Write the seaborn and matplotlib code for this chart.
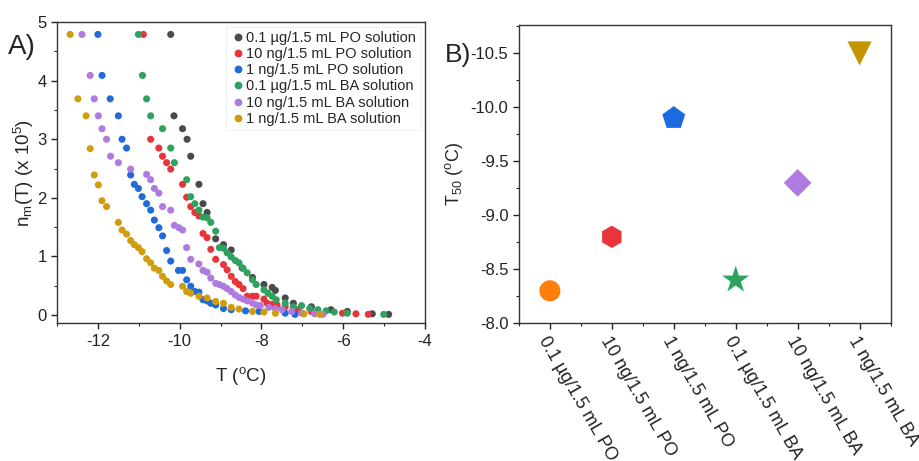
import numpy as np
import pandas as pd
import matplotlib
matplotlib.use("Agg")
import matplotlib.pyplot as plt
import seaborn as sns
from matplotlib.ticker import MultipleLocator, AutoMinorLocator

# ---- panel A data: n_m(T) (x 1e5) vs T (oC) ----
t_po_01 = [-10.22, -10.14, -9.93, -9.82, -9.73, -9.53, -9.43, -9.33, -9.12, -8.93, -8.74,
           -8.47, -8.22, -7.94, -7.74, -7.66, -7.42, -7.22, -6.78, -6.30, -5.90, -5.29, -4.89]
n_po_01 = [4.79, 3.40, 3.18, 3.00, 2.71, 2.23, 1.90, 1.75, 1.30, 1.20, 1.11,
           0.80, 0.64, 0.52, 0.47, 0.42, 0.29, 0.20, 0.14, 0.09, 0.06, 0.02, 0.01]

t_po_10 = [-10.89, -10.71, -10.51, -10.42, -10.32, -10.22, -9.93, -9.83, -9.73, -9.63, -9.53,
           -9.43, -9.33, -9.24, -9.12, -8.93, -8.84, -8.74, -8.64, -8.55, -8.45, -8.35, -8.22,
           -8.13, -7.94, -7.86, -7.74, -7.62, -7.42, -7.10, -6.78, -6.02, -5.69, -5.39]
n_po_10 = [4.79, 3.00, 2.85, 2.71, 2.60, 2.49, 2.23, 2.01, 1.85, 1.75, 1.69,
           1.39, 1.32, 1.12, 0.95, 0.86, 0.77, 0.66, 0.57, 0.52, 0.45, 0.32, 0.32,
           0.32, 0.27, 0.20, 0.18, 0.17, 0.14, 0.09, 0.06, 0.03, 0.02, 0.01]

t_po_1 = [-12.00, -11.90, -11.70, -11.50, -11.41, -11.30, -11.20, -11.11, -11.01, -10.92, -10.81,
          -10.71, -10.62, -10.51, -10.42, -10.32, -10.22, -10.03, -9.93, -9.83, -9.73, -9.63,
          -9.53, -9.43, -9.33, -9.24, -9.12, -8.93, -8.74, -8.39, -8.06, -7.42, -7.18]
n_po_1 = [4.79, 4.09, 3.69, 3.40, 3.00, 2.85, 2.39, 2.23, 2.16, 2.02, 1.90,
          1.79, 1.62, 1.49, 1.35, 1.10, 0.92, 0.76, 0.76, 0.60, 0.49, 0.40,
          0.39, 0.26, 0.24, 0.20, 0.17, 0.11, 0.09, 0.07, 0.06, 0.03, 0.01]

t_ba_01 = [-11.01, -10.91, -10.81, -10.71, -10.42, -10.22, -10.13, -9.83, -9.73, -9.63, -9.53,
           -9.43, -9.33, -9.24, -9.12, -9.03, -8.93, -8.84, -8.74, -8.64, -8.55, -8.45, -8.35,
           -8.22, -8.13, -7.94, -7.84, -7.74, -7.64, -7.42, -7.22, -7.02, -6.82, -6.62, -6.42,
           -6.22, -5.90, -5.01]
n_ba_01 = [4.79, 4.09, 3.69, 3.40, 3.18, 2.85, 2.60, 2.31, 2.02, 1.90, 1.79,
           1.67, 1.66, 1.58, 1.43, 1.15, 1.14, 1.06, 0.99, 0.93, 0.89, 0.80, 0.72,
           0.60, 0.52, 0.43, 0.37, 0.32, 0.26, 0.20, 0.14, 0.16, 0.11, 0.09, 0.07,
           0.05, 0.03, 0.01]

t_ba_10 = [-12.39, -12.19, -12.09, -11.99, -11.90, -11.79, -11.69, -11.50, -11.20, -10.81, -10.71,
           -10.62, -10.51, -10.42, -10.22, -10.13, -10.02, -9.93, -9.83, -9.73, -9.53, -9.43,
           -9.33, -9.24, -9.12, -9.03, -8.93, -8.84, -8.74, -8.64, -8.55, -8.45, -8.35, -8.22,
           -8.13, -8.03, -7.82, -7.66, -7.50, -7.26, -7.02, -6.70, -6.50]
n_ba_10 = [4.79, 4.09, 3.69, 3.40, 3.18, 3.00, 2.71, 2.60, 2.49, 2.40, 2.31,
           2.16, 2.08, 1.85, 1.79, 1.53, 1.49, 1.45, 1.15, 0.95, 0.87, 0.76,
           0.73, 0.63, 0.54, 0.52, 0.49, 0.45, 0.40, 0.34, 0.30, 0.27, 0.24, 0.20,
           0.17, 0.16, 0.13, 0.11, 0.09, 0.06, 0.03, 0.02, 0.01]

t_ba_1 = [-12.68, -12.49, -12.29, -12.19, -12.09, -11.99, -11.90, -11.79, -11.50, -11.41, -11.30,
          -11.20, -11.11, -11.01, -10.92, -10.81, -10.71, -10.62, -10.51, -10.42, -10.32, -10.22,
          -9.93, -9.83, -9.73, -9.53, -9.33, -9.12, -8.93, -8.74, -8.55, -8.22, -7.94, -7.66,
          -6.96, -6.58]
n_ba_1 = [4.79, 3.69, 3.40, 2.84, 2.39, 2.22, 1.95, 1.85, 1.58, 1.45, 1.38,
          1.27, 1.20, 1.15, 1.08, 0.96, 0.89, 0.80, 0.76, 0.66, 0.58, 0.52,
          0.49, 0.40, 0.37, 0.32, 0.29, 0.23, 0.20, 0.13, 0.10, 0.06, 0.05, 0.03,
          0.02, 0.01]

series_names = ["0.1 \u00b5g/1.5 mL PO solution", "10 ng/1.5 mL PO solution",
                "1 ng/1.5 mL PO solution", "0.1 \u00b5g/1.5 mL BA solution",
                "10 ng/1.5 mL BA solution", "1 ng/1.5 mL BA solution"]
series_t = [t_po_01, t_po_10, t_po_1, t_ba_01, t_ba_10, t_ba_1]
series_n = [n_po_01, n_po_10, n_po_1, n_ba_01, n_ba_10, n_ba_1]
series_colors = ["#4a4a4a", "#e8353b", "#1f6bd8", "#2ea35f", "#b07be0", "#d19d0e"]

# ---- panel B data: T50 per sample ----
samples = ["0.1 \u00b5g/1.5 mL PO", "10 ng/1.5 mL PO", "1 ng/1.5 mL PO",
           "0.1 \u00b5g/1.5 mL BA", "10 ng/1.5 mL BA", "1 ng/1.5 mL BA"]
t50 = [-8.3, -8.8, -9.9, -8.4, -9.3, -10.5]
b_markers = ["o", "h", "p", "*", "D", "v"]
b_colors = ["#ff7f0a", "#e8353b", "#1a6ae0", "#2ea35f", "#b07be0", "#c49500"]
b_sizes = [230, 260, 300, 420, 200, 300]

sns.set_style("ticks")
plt.rcParams["font.family"] = ["Liberation Sans", "DejaVu Sans"]
plt.rcParams["mathtext.fontset"] = "custom"
plt.rcParams["mathtext.rm"] = "Liberation Sans"
plt.rcParams["mathtext.it"] = "Liberation Sans"
plt.rcParams["axes.unicode_minus"] = False

df_a = pd.concat([pd.DataFrame({"T": t, "n": n, "series": name})
                  for t, n, name in zip(series_t, series_n, series_names)], ignore_index=True)
df_b = pd.DataFrame({"sample": samples, "T50": t50, "pos": range(len(samples))})

fig = plt.figure(figsize=(9.2, 4.61), dpi=100)
ax1 = fig.add_axes([0.062, 0.299, 0.400, 0.653])
ax2 = fig.add_axes([0.564, 0.299, 0.404, 0.646])

# Panel A
sns.scatterplot(data=df_a, x="T", y="n", hue="series", hue_order=series_names,
                palette=series_colors, s=26, edgecolor="none", ax=ax1)
ax1.set_xlim(-13, -4)
ax1.set_ylim(-0.14, 5)
ax1.xaxis.set_major_locator(MultipleLocator(2))
ax1.xaxis.set_minor_locator(MultipleLocator(1))
ax1.yaxis.set_major_locator(MultipleLocator(1))
ax1.yaxis.set_minor_locator(MultipleLocator(0.5))
ax1.set_xlabel("T ($^{o}$C)", fontsize=13.5, labelpad=12)
ax1.set_ylabel("n$_{m}$(T) (x 10$^{5}$)", fontsize=13.5, labelpad=1)
leg = ax1.legend(loc="upper right", fontsize=10.5, frameon=True, handletextpad=0.1,
                 borderaxespad=0.3, labelspacing=0.15, markerscale=1.1, handlelength=1.0,
                 borderpad=0.3, fancybox=False)
leg.get_frame().set_edgecolor("#eeeeee")
leg.get_frame().set_linewidth(0.8)
fig.text(0.009, 0.883, "A)", fontsize=20)

# Panel B
for i, row in df_b.iterrows():
    sns.scatterplot(x=[row["pos"]], y=[row["T50"]], marker=b_markers[i], s=b_sizes[i],
                    color=b_colors[i], edgecolor="none", ax=ax2, legend=False)
ax2.set_xlim(-0.5, 5.5)
ax2.set_ylim(-8.0, -10.76)
ax2.set_xticks(df_b["pos"])
ax2.set_xticklabels(df_b["sample"], rotation=-60, ha="left", rotation_mode="anchor",
                    fontsize=13)
ax2.xaxis.set_minor_locator(AutoMinorLocator(2))
ax2.yaxis.set_major_locator(MultipleLocator(0.5))
ax2.yaxis.set_minor_locator(MultipleLocator(0.25))
ax2.yaxis.set_major_formatter(plt.FuncFormatter(lambda v, p: f"{v:.1f}"))
ax2.set_xlabel("")
ax2.set_ylabel("T$_{50}$ ($^{o}$C)", fontsize=13)
fig.text(0.484, 0.865, "B)", fontsize=19)

for ax in (ax1, ax2):
    for sp in ax.spines.values():
        sp.set_color("#333333")
        sp.set_linewidth(1.0)
    ax.tick_params(which="major", direction="out", length=4, width=1, labelsize=12,
                   colors="#222222")
    ax.tick_params(which="minor", direction="out", length=2.5, width=0.8)
ax2.tick_params(axis="x", which="major", labelsize=13)

fig.savefig("out.png", dpi=100)
